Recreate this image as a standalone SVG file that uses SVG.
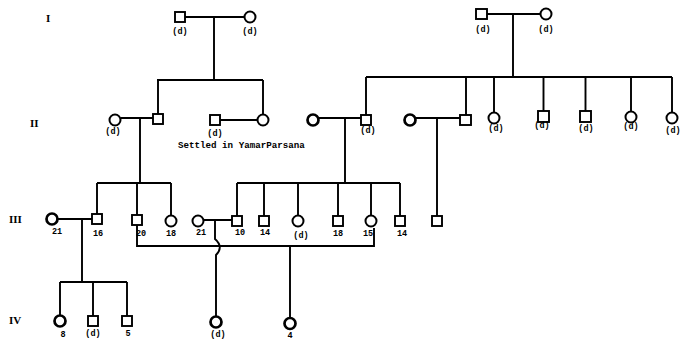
<svg xmlns="http://www.w3.org/2000/svg" width="681" height="342" viewBox="0 0 681 342">
<style>
.ln{fill:none;stroke:#000;stroke-width:1.9}
.sq{fill:#fff;stroke:#000;stroke-width:1.9}
.ci{fill:#fff;stroke:#000;stroke-width:2}
.thick{stroke-width:2.7}
.lb{font-family:"Liberation Mono",monospace;font-weight:bold;font-size:8.5px;text-anchor:middle;fill:#000}
.gen{font-family:"Liberation Serif",serif;font-weight:bold;font-size:11px;fill:#000}
.note{font-family:"Liberation Mono",monospace;font-weight:bold;font-size:9.2px;fill:#000}
</style>
<rect width="681" height="342" fill="#fff"/>
<g id="generations">
<text class="gen" x="46" y="22">I</text>
<text class="gen" x="30" y="127">II</text>
<text class="gen" x="9" y="223">III</text>
<text class="gen" x="9" y="324">IV</text>
</g>
<g id="connectors">
<path class="ln" d="M185 17H244.5M214 17V80M157 80H263M158 80V114M263 80V114.5"/>
<path class="ln" d="M487 14H540.5M513 14V77M366 77H672M366 77V115M466 77V115M494 77V112.5M543.5 77V111M585.5 77V111M631 77V111.5M672 77V112.5"/>
<path class="ln" d="M120.5 118H153M140 118V183M97 183H171M97 183V214M137 183V215M171 183V215.5"/>
<path class="ln" d="M220 120H257.5"/>
<path class="ln" d="M319 118H361M345 118V183M237 183H400M237 183V216M264 183V216M298 183V215.5M338 183V216M371 183V215.5M400 183V216"/>
<path class="ln" d="M416 118H460M437 118V216"/>
<path class="ln" d="M58 219H92M82 219V282M60 282H127M60 282V315.5M93 282V316M127 282V316"/>
<path class="ln" d="M203.5 220H232M215 220V239Q224 247 216 255V316.5"/>
<path class="ln" d="M137 225V246H374V228M290 246V318"/>
</g>
<g id="I-1"><rect class="sq" x="175" y="12" width="10" height="10"/><text class="lb" x="180" y="34">(d)</text></g>
<g id="I-2"><circle class="ci" cx="250" cy="17" r="5.5"/><text class="lb" x="250" y="34">(d)</text></g>
<g id="I-3"><rect class="sq" x="476" y="9" width="11" height="10"/><text class="lb" x="483" y="32">(d)</text></g>
<g id="I-4"><circle class="ci" cx="546" cy="14" r="5.5"/><text class="lb" x="546" y="32">(d)</text></g>
<g id="II-1"><circle class="ci" cx="115" cy="120" r="5.5"/><text class="lb" x="113" y="134">(d)</text></g>
<g id="II-2"><rect class="sq" x="153" y="114" width="10" height="10"/></g>
<g id="II-3"><rect class="sq" x="210" y="115" width="10" height="10"/><text class="lb" x="215" y="136">(d)</text></g>
<g id="II-4"><circle class="ci" cx="263" cy="120" r="5.5"/></g>
<g id="note"><text class="note" x="178" y="148">Settled in YamarParsana</text></g>
<g id="II-5"><circle class="ci thick" cx="313" cy="120" r="5.5"/></g>
<g id="II-6"><rect class="sq" x="361" y="115" width="10" height="10"/><text class="lb" x="368" y="133">(d)</text></g>
<g id="II-7"><circle class="ci thick" cx="410" cy="120" r="5.5"/></g>
<g id="II-8"><rect class="sq" x="460" y="115" width="11" height="10"/></g>
<g id="II-9"><circle class="ci" cx="494" cy="118" r="5.5"/><text class="lb" x="496" y="131">(d)</text></g>
<g id="II-10"><rect class="sq" x="538" y="111" width="11" height="11"/><text class="lb" x="542" y="128">(d)</text></g>
<g id="II-11"><rect class="sq" x="580" y="111" width="11" height="11"/><text class="lb" x="586" y="131">(d)</text></g>
<g id="II-12"><circle class="ci" cx="631" cy="117" r="5.5"/><text class="lb" x="631" y="129">(d)</text></g>
<g id="II-13"><circle class="ci" cx="672" cy="118" r="5.5"/><text class="lb" x="673" y="133">(d)</text></g>
<g id="III-1"><circle class="ci thick" cx="52" cy="219" r="5.5"/><text class="lb" x="57" y="234">21</text></g>
<g id="III-2"><rect class="sq" x="92" y="214" width="10" height="10"/><text class="lb" x="98" y="236">16</text></g>
<g id="III-3"><rect class="sq" x="132" y="215" width="10" height="10"/><text class="lb" x="141" y="236">20</text></g>
<g id="III-4"><circle class="ci" cx="171" cy="221" r="5.5"/><text class="lb" x="171" y="236">18</text></g>
<g id="III-5"><circle class="ci" cx="198" cy="221" r="5.5"/><text class="lb" x="201" y="235">21</text></g>
<g id="III-6"><rect class="sq" x="232" y="216" width="10" height="10"/><text class="lb" x="240" y="235">10</text></g>
<g id="III-7"><rect class="sq" x="259" y="216" width="10" height="10"/><text class="lb" x="265" y="235">14</text></g>
<g id="III-8"><circle class="ci" cx="298" cy="221" r="5.5"/><text class="lb" x="301" y="238">(d)</text></g>
<g id="III-9"><rect class="sq" x="333" y="216" width="10" height="10"/><text class="lb" x="338" y="236">18</text></g>
<g id="III-10"><circle class="ci" cx="371" cy="221" r="5.5"/><text class="lb" x="368" y="236">15</text></g>
<g id="III-11"><rect class="sq" x="395" y="216" width="10" height="10"/><text class="lb" x="402" y="236">14</text></g>
<g id="III-12"><rect class="sq" x="432" y="216" width="10" height="10"/></g>
<g id="IV-1"><circle class="ci thick" cx="60" cy="321" r="5.5"/><text class="lb" x="63" y="337">8</text></g>
<g id="IV-2"><rect class="sq" x="88" y="316" width="10" height="10"/><text class="lb" x="93" y="336">(d)</text></g>
<g id="IV-3"><rect class="sq" x="122" y="316" width="10" height="10"/><text class="lb" x="128" y="336">5</text></g>
<g id="IV-4"><circle class="ci thick" cx="216" cy="322" r="5.5"/><text class="lb" x="218" y="337">(d)</text></g>
<g id="IV-5"><circle class="ci thick" cx="290" cy="323.5" r="5.5"/><text class="lb" x="290" y="338">4</text></g>
</svg>
